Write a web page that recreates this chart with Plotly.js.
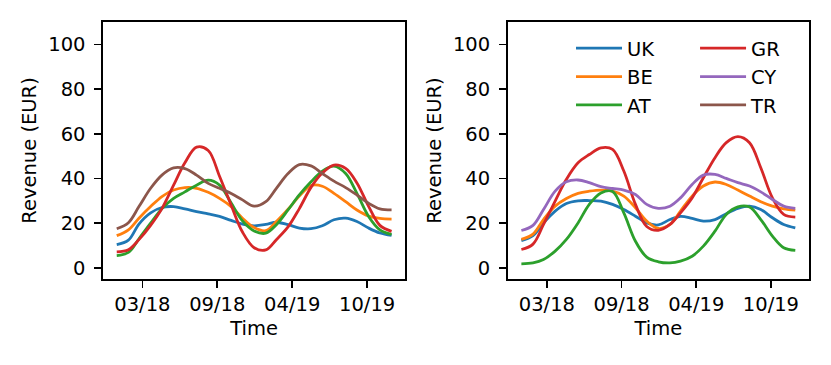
<!DOCTYPE html>
<html>
<head>
<meta charset="utf-8">
<script src="https://cdn.plot.ly/plotly-3.0.1.min.js"></script>
<style>
  body { margin: 0; background: #fff; }
  #chart { width: 831px; height: 365px; }
</style>
</head>
<body>
<div id="chart"></div>
<script>
// monthly points, Jan 2018 - Jan 2020
const months = ['2018-01-01','2018-02-01','2018-03-01','2018-04-01','2018-05-01','2018-06-01','2018-07-01',
  '2018-08-01','2018-09-01','2018-10-01','2018-11-01','2018-12-01','2019-01-01','2019-02-01','2019-03-01',
  '2019-04-01','2019-05-01','2019-06-01','2019-07-01','2019-08-01','2019-09-01','2019-10-01','2019-11-01',
  '2019-12-01','2020-01-01'];

const tickDates = ['2018-03-10','2018-09-25','2019-04-12','2019-10-28'];
const tickLabels = ['03/18','09/18','04/19','10/19'];

// left panel
const ukLeft = [10.4,12.4,19.6,24.6,27,27.4,26.4,25.2,24.1,23,21.2,19.6,18.8,19.4,20.4,19.3,17.8,17.5,18.8,21.5,22.2,20.7,17.8,15.6,14.5];
const beLeft = [14.4,17,22.2,27.4,31.9,34.8,35.9,35.6,33.8,31.1,27.4,22.2,18,16.6,20.7,26.2,32.1,36.8,36.5,33.3,29.6,25.9,23.2,22.1,21.8];
const atLeft = [5.5,6.9,13,20,26.5,31.1,34,37,39.2,37,29,21,16.5,15.5,19.3,25.9,32.6,38.5,43.3,45.5,42.2,33.3,23,17,15];
const grLeft = [7.1,8.1,12.6,19,26.5,37,47,54,52.5,41,28,16,9,8,12.6,18.3,26.5,36,42.4,46,44.5,38,27.5,19,16.3];
const trLeft = [17.5,20.2,27.4,35.6,41.5,44.7,44.4,41.5,37.8,35.6,33.3,30.4,27.6,29.6,35.6,42.2,46.2,45.6,42.2,38.8,35.9,32.6,28.9,26.4,25.9];

// right panel
const ukRight = [12.2,14.4,20.1,25.4,28.8,30,30.1,29.9,28.4,26.1,23.1,20.1,19.2,21.6,23,22.1,20.9,21.6,24.2,26.6,27.6,26.1,22.4,19.4,17.9];
const beRight = [12.7,15.1,21.6,27.6,31,33.3,34.3,34.8,34.3,32.1,26.9,20.9,17.6,19.4,25.4,32.1,36.6,38.4,37.3,34.8,32.1,29.6,27.6,26.4,25.8];
const atRight = [1.8,2.2,3.7,7.5,12.7,20.1,28.4,33.5,34.2,24.6,11.9,4.8,2.7,2.2,3,5.2,9.7,16.4,23.9,27.3,27.2,21.6,14.2,9,7.8];
const grRight = [8.2,10.6,19.4,29.9,39.6,47,50.7,53.7,53,43.3,28.4,18.5,16.8,19.4,24.6,31.3,40.3,49.3,56,58.7,56,44.8,31.3,23.9,22.7];
const cyRight = [16.7,19,26.1,34.3,38.5,39.3,38.1,36.3,35.5,34.8,32.8,28.4,26.6,27.6,31.3,37.3,41.5,41.8,40,38.1,36.6,34,30.6,27.6,26.6];

const colors = {UK:'#1f77b4', BE:'#ff7f0e', AT:'#2ca02c', GR:'#d62728', CY:'#9467bd', TR:'#8c564b'};
const font = {family:'DejaVu Sans', size:19.5, color:'#000'};

function line(name, y, xa, ya, legend, show) {
  return {
    x: months, y: y, name: name, type: 'scatter', mode: 'lines',
    xaxis: xa, yaxis: ya,
    line: {color: colors[name], width: 2.8, shape: 'spline', smoothing: 1},
    legend: legend, showlegend: show,
    hoverinfo: 'x+y+name'
  };
}

let data = [
  line('UK', ukLeft, 'x', 'y', 'legend', false),
  line('BE', beLeft, 'x', 'y', 'legend', false),
  line('AT', atLeft, 'x', 'y', 'legend', false),
  line('GR', grLeft, 'x', 'y', 'legend2', false),
  line('UK', ukRight, 'x2', 'y2', 'legend', true),
  line('BE', beRight, 'x2', 'y2', 'legend', true),
  line('AT', atRight, 'x2', 'y2', 'legend', true),
  line('GR', grRight, 'x2', 'y2', 'legend2', true),
  line('CY', cyRight, 'x2', 'y2', 'legend2', true),
  line('TR', trLeft, 'x', 'y', 'legend2', true)
];

function xax(domain, anchor) {
  return {
    domain: domain, anchor: anchor, type: 'date',
    range: ['2017-11-25 12:00','2020-02-06 12:00'],
    tickvals: tickDates, ticktext: tickLabels,
    ticks: 'outside', ticklen: 7, tickwidth: 1.6, tickcolor: '#000',
    showline: true, mirror: true, linecolor: '#000', linewidth: 1.6,
    showgrid: false, zeroline: false, tickfont: font,
    title: {text: 'Time', font: font, standoff: 6}
  };
}
function yax(anchor) {
  return {
    domain: [0, 1], anchor: anchor, range: [-5, 110],
    tickvals: [0,20,40,60,80,100],
    ticks: 'outside', ticklen: 7, tickwidth: 1.6, tickcolor: '#000',
    showline: true, mirror: true, linecolor: '#000', linewidth: 1.6,
    showgrid: false, zeroline: false, tickfont: font, ticklabelstandoff: 5,
    title: {text: 'Revenue (EUR)', font: font, standoff: 6}
  };
}

let layout = {
  width: 831, height: 365,
  margin: {l: 103, r: 22, t: 22, b: 86},
  paper_bgcolor: '#fff', plot_bgcolor: '#fff',
  font: font,
  xaxis: xax([0, 0.4282], 'y'),
  yaxis: yax('x'),
  xaxis2: xax([0.5732, 1], 'y2'),
  yaxis2: yax('x2'),
  legend: {x: 0.6629, y: 0.9726, xanchor: 'left', yanchor: 'top', bgcolor: 'rgba(0,0,0,0)',
    font: font, tracegroupgap: 0, traceorder: 'normal', itemwidth: 46},
  legend2: {x: 0.8386, y: 0.9726, xanchor: 'left', yanchor: 'top', bgcolor: 'rgba(0,0,0,0)',
    font: font, tracegroupgap: 0, traceorder: 'normal', itemwidth: 46},
  showlegend: true
};

Plotly.newPlot('chart', data, layout, {displayModeBar: false, staticPlot: true});
</script>
</body>
</html>
